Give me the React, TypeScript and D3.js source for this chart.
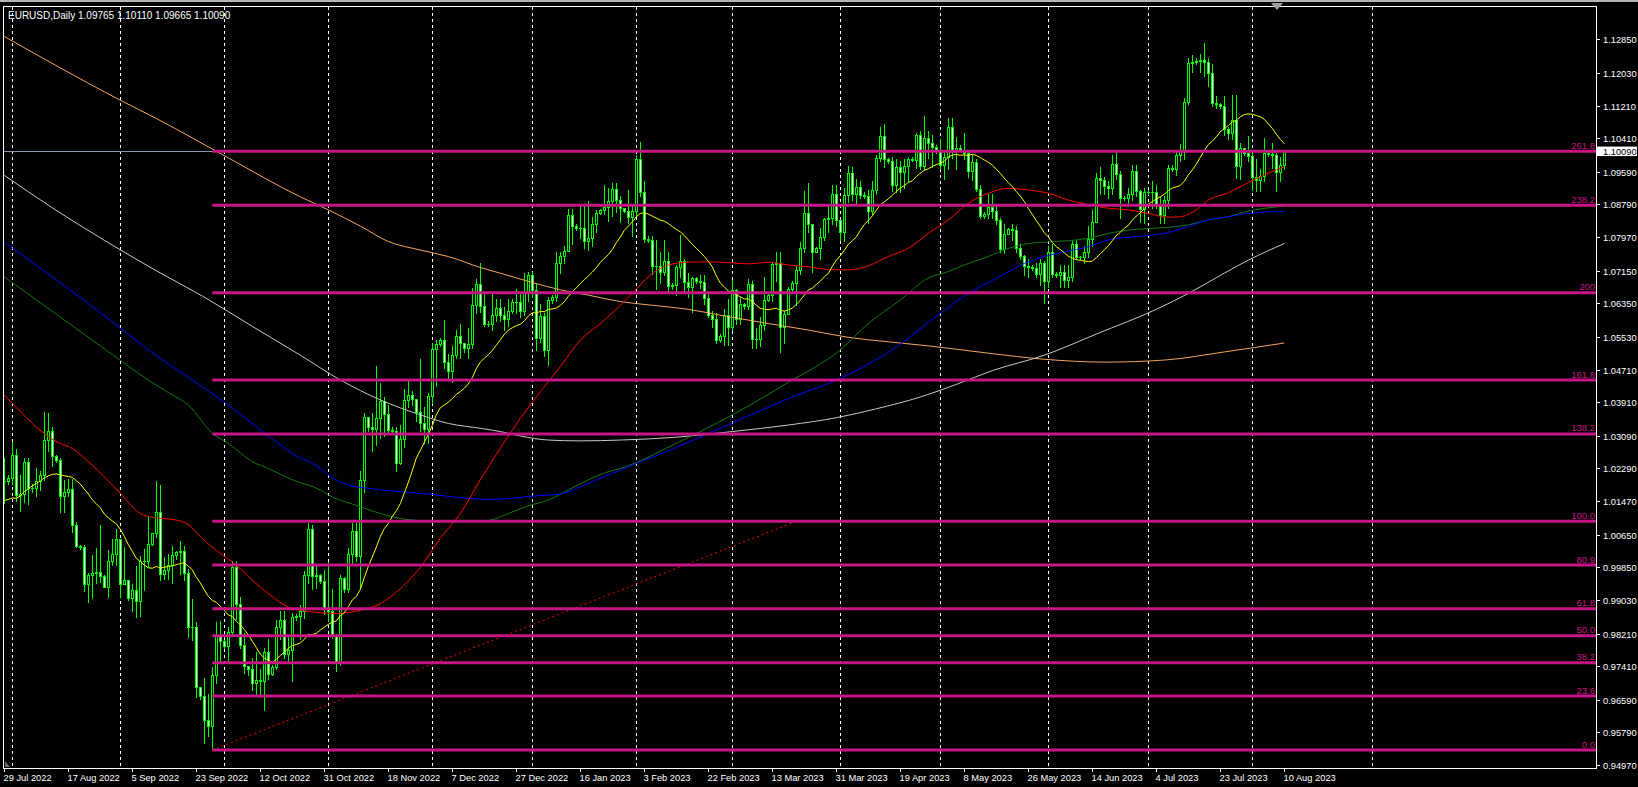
import React from "react";
import * as d3 from "d3";

const W = 1638;
const H = 787;

// ---- data (prices in 1/10000) ----
const firstOpen = 10196;
const priorCloses = [10161, 10185, 10180, 10040, 10037, 10061, 10019, 10082, 10085, 10141, 10228, 10180, 10229, 10211, 10205, 10220, 10131, 10199, 10196];

const closePips = [
  10198, 10205, 10260, 10162, 10165, 10245, 10181, 10180, 10196, 10211, 10298, 10320, 10258, 10250, 10160, 10171, 10178, 10088, 10038, 10035,
  9943, 9966, 9970, 9972, 9964, 9937, 10001, 10018, 10055, 9944, 9954, 9910, 9928, 9902, 10000, 10000, 10042, 10068, 10122, 9969,
  9978, 9990, 10014, 10022, 10025, 9971, 9837, 9838, 9690, 9668, 9609, 9594, 9720, 9815, 9802, 9790, 9825, 9985, 9895, 9794,
  9741, 9735, 9700, 9706, 9704, 9777, 9723, 9740, 9838, 9856, 9772, 9780, 9862, 9865, 9878, 9966, 10078, 9964, 9966, 9950,
  9881, 9876, 9819, 9752, 9959, 9930, 10018, 10074, 10012, 10200, 10355, 10330, 10326, 10352, 10394, 10363, 10324, 10320, 10242, 10301,
  10396, 10410, 10398, 10366, 10340, 10325, 10406, 10522, 10535, 10545, 10490, 10467, 10508, 10555, 10538, 10525, 10535, 10630, 10683, 10627,
  10585, 10583, 10606, 10623, 10606, 10595, 10615, 10639, 10639, 10615, 10660, 10705, 10667, 10550, 10603, 10521, 10644, 10650, 10733, 10752,
  10763, 10853, 10826, 10820, 10820, 10789, 10795, 10830, 10856, 10865, 10871, 10886, 10916, 10890, 10869, 10863, 10848, 10862, 10989, 10910,
  10794, 10790, 10727, 10727, 10713, 10740, 10678, 10680, 10723, 10740, 10688, 10674, 10696, 10690, 10687, 10648, 10605, 10596, 10545, 10554,
  10606, 10577, 10668, 10596, 10633, 10627, 10682, 10546, 10546, 10581, 10642, 10655, 10731, 10733, 10577, 10609, 10669, 10685, 10717, 10770,
  10857, 10830, 10760, 10770, 10799, 10843, 10844, 10903, 10839, 10810, 10902, 10955, 10904, 10921, 10902, 10900, 10861, 10913, 10993, 11047,
  10991, 10985, 10927, 10971, 10958, 10973, 10991, 10988, 11050, 10973, 11043, 11029, 11019, 11010, 10976, 10995, 11069, 11013, 11018, 11013,
  11005, 10961, 10982, 10916, 10850, 10855, 10873, 10862, 10840, 10768, 10805, 10818, 10815, 10770, 10752, 10726, 10724, 10722, 10706, 10734,
  10690, 10762, 10708, 10705, 10712, 10693, 10700, 10781, 10750, 10748, 10760, 10794, 10835, 10944, 10939, 10923, 10918, 10979, 10954, 10894,
  10895, 10905, 10960, 10912, 10867, 10909, 10910, 10910, 10880, 10853, 10890, 10969, 10965, 11000, 11009, 11130, 11227, 11228, 11232, 11235,
  11228, 11201, 11128, 11125, 11120, 11063, 11055, 11086, 10972, 11017, 11005, 10998, 10947, 10938, 10948, 11006, 11003, 11001, 10957, 10976,
  11009,
];

const highPips = [
  10254, 10212, 10294, 10275, 10212, 10255, 10253, 10190, 10230, 10222, 10368, 10365, 10330, 10260, 10255, 10200, 10202, 10202, 10095, 10040,
  10040, 9970, 10016, 10031, 10090, 9966, 10027, 10054, 10080, 10055, 10034, 9954, 9943, 9987, 10012, 10030, 10112, 10070, 10198, 10187,
  10010, 10017, 10037, 10025, 10050, 10037, 9980, 9907, 9851, 9690, 9712, 9672, 9740, 9849, 9853, 9805, 9838, 9999, 9999, 9911,
  9824, 9741, 9761, 9775, 9733, 9787, 9807, 9745, 9856, 9876, 9876, 9815, 9873, 9870, 9892, 9976, 10094, 10089, 9990, 9968,
  9977, 9998, 9930, 9820, 9965, 9960, 10032, 10094, 10094, 10222, 10364, 10355, 10364, 10481, 10438, 10405, 10385, 10330, 10330, 10335,
  10423, 10448, 10420, 10398, 10497, 10380, 10413, 10538, 10545, 10550, 10594, 10510, 10530, 10570, 10585, 10538, 10575, 10673, 10694, 10735,
  10665, 10590, 10660, 10646, 10645, 10626, 10645, 10645, 10670, 10663, 10710, 10713, 10713, 10683, 10632, 10610, 10650, 10655, 10760, 10760,
  10776, 10868, 10868, 10830, 10875, 10875, 10887, 10847, 10865, 10868, 10927, 10920, 10930, 10930, 10900, 10870, 10914, 10876, 11000, 11033,
  10935, 10800, 10800, 10790, 10760, 10790, 10760, 10684, 10730, 10804, 10745, 10710, 10700, 10700, 10705, 10705, 10665, 10615, 10610, 10560,
  10620, 10645, 10692, 10670, 10650, 10635, 10694, 10690, 10575, 10600, 10700, 10660, 10736, 10760, 10760, 10615, 10675, 10690, 10730, 10787,
  10912, 10930, 10830, 10773, 10820, 10845, 10875, 10926, 10926, 10840, 10920, 10973, 10970, 10942, 10935, 10910, 10915, 10935, 11000, 11070,
  11076, 10993, 10995, 10990, 10985, 10990, 10995, 10995, 11055, 11060, 11095, 11060, 11050, 11025, 11040, 11010, 11090, 11092, 11045, 11025,
  11055, 11010, 11000, 10990, 10925, 10860, 10905, 10905, 10875, 10845, 10830, 10820, 10830, 10825, 10780, 10755, 10745, 10730, 10735, 10745,
  10740, 10775, 10780, 10712, 10730, 10730, 10730, 10790, 10790, 10752, 10775, 10825, 10865, 10955, 10970, 10945, 10935, 11000, 11012, 10960,
  10900, 10920, 10975, 10975, 10915, 10920, 10915, 10935, 10925, 10900, 10900, 10975, 10975, 11010, 11026, 11140, 11240, 11246, 11240, 11250,
  11276, 11240, 11225, 11145, 11128, 11145, 11070, 11149, 11149, 11030, 11017, 11046, 11005, 10990, 10966, 11042, 11008, 11030, 11005, 10995,
  11011,
];

const lowPips = [
  10144, 10190, 10190, 10148, 10123, 10145, 10141, 10170, 10160, 10175, 10200, 10270, 10235, 10245, 10120, 10120, 10160, 10072, 10035, 10030,
  9926, 9900, 9909, 9946, 9948, 9935, 9912, 9990, 9990, 9911, 9945, 9905, 9877, 9863, 9864, 9929, 9986, 10040, 10060, 9953,
  9955, 9955, 9945, 10005, 9967, 9954, 9812, 9806, 9666, 9660, 9553, 9570, 9535, 9700, 9751, 9785, 9753, 9816, 9858, 9785,
  9725, 9720, 9683, 9670, 9666, 9632, 9710, 9720, 9735, 9807, 9761, 9753, 9704, 9855, 9808, 9861, 9947, 9930, 9933, 9945,
  9870, 9853, 9811, 9730, 9745, 9925, 9924, 9990, 10000, 9935, 10170, 10320, 10271, 10287, 10302, 10307, 10314, 10315, 10222, 10240,
  10280, 10380, 10385, 10345, 10320, 10290, 10290, 10390, 10430, 10530, 10475, 10445, 10440, 10500, 10500, 10515, 10500, 10525, 10610, 10614,
  10580, 10578, 10570, 10590, 10590, 10570, 10580, 10610, 10610, 10600, 10605, 10640, 10650, 10520, 10540, 10505, 10483, 10635, 10640, 10710,
  10735, 10765, 10780, 10815, 10795, 10770, 10765, 10775, 10810, 10855, 10855, 10838, 10850, 10860, 10836, 10860, 10832, 10800, 10850, 10900,
  10785, 10785, 10707, 10670, 10685, 10705, 10660, 10670, 10655, 10700, 10660, 10650, 10613, 10685, 10673, 10632, 10601, 10577, 10536, 10540,
  10533, 10533, 10570, 10585, 10583, 10620, 10620, 10525, 10524, 10530, 10570, 10640, 10640, 10690, 10516, 10537, 10610, 10665, 10630, 10708,
  10760, 10810, 10713, 10760, 10745, 10790, 10810, 10830, 10826, 10790, 10788, 10885, 10890, 10880, 10895, 10895, 10832, 10855, 10905, 10985,
  10970, 10980, 10911, 10910, 10910, 10920, 10935, 10985, 10968, 10965, 10965, 10993, 10970, 11005, 10965, 10941, 10966, 10993, 10965, 11010,
  10990, 10945, 10939, 10912, 10845, 10845, 10845, 10845, 10830, 10760, 10758, 10805, 10790, 10760, 10745, 10705, 10700, 10718, 10700, 10680,
  10635, 10675, 10700, 10700, 10675, 10675, 10675, 10690, 10745, 10745, 10735, 10750, 10775, 10835, 10905, 10905, 10895, 10905, 10942, 10845,
  10890, 10880, 10890, 10900, 10835, 10833, 10905, 10870, 10870, 10833, 10833, 10870, 10960, 10950, 10985, 10990, 11125, 11205, 11225, 11205,
  11195, 11170, 11120, 11115, 11117, 11050, 11040, 11040, 10943, 10940, 11000, 10985, 10915, 10912, 10912, 10935, 10998, 10967, 10912, 10935,
  10966,
];

// moving averages: [bar index, price in 1/10000]
const maRed: [number, number][] = [
  [0, 10409], [4, 10368], [10, 10314], [13, 10294], [17, 10277], [22, 10236], [29, 10167], [34, 10117], [37, 10108], [43, 10101],
  [46, 10090], [49, 10060], [54, 10019], [57, 9998], [62, 9953], [66, 9920], [71, 9887], [74, 9879], [79, 9873], [83, 9871], [89, 9879],
  [94, 9895], [99, 9932], [104, 9984], [109, 10056], [114, 10117], [119, 10200], [124, 10278], [129, 10351], [134, 10417], [139, 10479],
  [144, 10544], [149, 10585], [154, 10630], [158, 10670], [161, 10700], [166, 10729], [171, 10736], [176, 10737], [181, 10735], [186, 10732],
  [191, 10736], [196, 10729], [201, 10725], [206, 10718], [211, 10717], [216, 10727], [221, 10750], [226, 10770], [231, 10807], [236, 10840],
  [241, 10881], [246, 10906], [251, 10918], [256, 10914], [261, 10906], [266, 10889], [271, 10878], [276, 10869], [281, 10865], [286, 10856],
  [291, 10847], [294, 10848], [298, 10865], [301, 10889], [306, 10907], [311, 10932], [316, 10955], [320, 10971],
];
const maGreen: [number, number][] = [
  [0, 10700], [12, 10615], [24, 10530], [36, 10446], [41, 10415], [46, 10384], [52, 10315], [56, 10290], [62, 10245], [66, 10228],
  [72, 10200], [79, 10175], [81, 10163], [89, 10134], [94, 10117], [99, 10105], [105, 10099], [112, 10097], [121, 10100], [126, 10117],
  [131, 10136], [136, 10150], [141, 10175], [146, 10200], [151, 10220], [154, 10228], [168, 10290], [182, 10360], [196, 10440], [209, 10520],
  [216, 10585], [224, 10643], [231, 10697], [236, 10713], [241, 10733], [246, 10750], [251, 10770], [256, 10782], [261, 10786], [266, 10789],
  [271, 10795], [276, 10807], [281, 10815], [286, 10819], [291, 10822], [296, 10828], [301, 10840], [306, 10848], [311, 10862], [316, 10870],
  [320, 10874],
];
const maBlue: [number, number][] = [
  [0, 10785], [12, 10700], [25, 10605], [36, 10520], [47, 10446], [56, 10384], [64, 10323], [72, 10265], [79, 10228], [81, 10212],
  [86, 10187], [91, 10179], [99, 10171], [106, 10165], [114, 10156], [121, 10152], [126, 10154], [132, 10160], [139, 10165], [144, 10183],
  [149, 10204], [154, 10224], [168, 10280], [182, 10340], [196, 10400], [209, 10450], [222, 10520], [234, 10610], [241, 10659], [248, 10696],
  [255, 10733], [260, 10750], [265, 10762], [271, 10774], [276, 10791], [283, 10799], [290, 10807], [296, 10824], [301, 10840], [306, 10848],
  [311, 10856], [316, 10860], [320, 10861],
];
const maWhite: [number, number][] = [
  [0, 10950], [12, 10870], [25, 10790], [38, 10715], [50, 10650], [62, 10578], [74, 10507], [84, 10446], [94, 10397], [104, 10360],
  [111, 10339], [119, 10327], [124, 10319], [129, 10308], [136, 10298], [144, 10296], [154, 10298], [168, 10305], [182, 10319], [196, 10335],
  [208, 10353], [218, 10375], [229, 10404], [238, 10435], [247, 10469], [260, 10507], [273, 10559], [288, 10620], [296, 10659], [305, 10709],
  [311, 10741], [320, 10782],
];
const maOrange: [number, number][] = [
  [0, 11292], [29, 11135], [38, 11090], [56, 10993], [74, 10897], [81, 10865], [89, 10825], [96, 10787], [104, 10766], [111, 10750],
  [119, 10723], [124, 10709], [132, 10686], [139, 10668], [146, 10655], [154, 10639], [161, 10631], [171, 10620], [181, 10602], [191, 10585],
  [201, 10569], [211, 10551], [221, 10540], [231, 10530], [246, 10512], [260, 10497], [275, 10490], [290, 10495], [305, 10515], [320, 10537],
];

const dateLabels = [
  "29 Jul 2022", "17 Aug 2022", "5 Sep 2022", "23 Sep 2022", "12 Oct 2022", "31 Oct 2022", "18 Nov 2022",
  "7 Dec 2022", "27 Dec 2022", "16 Jan 2023", "3 Feb 2023", "22 Feb 2023", "13 Mar 2023", "31 Mar 2023",
  "19 Apr 2023", "8 May 2023", "26 May 2023", "14 Jun 2023", "4 Jul 2023", "23 Jul 2023", "10 Aug 2023",
];
const labelEvery = 16;
const monthGridBars = [2, 29, 55, 81, 107, 132, 158, 182, 209, 234, 261, 286, 312, 342];

const priceTicks = [
  1.1285, 1.1203, 1.1121, 1.1041, 1.0959, 1.0879, 1.0797, 1.0715, 1.0635, 1.0553, 1.0471, 1.0391,
  1.0309, 1.0229, 1.0147, 1.0065, 0.9985, 0.9903, 0.9821, 0.9741, 0.9659, 0.9579, 0.9497,
];

const fibLow = 0.95345;
const fibHigh = 1.00978;
const fibStartBar = 52;
const fibEndBar = 198;
const fibLevels = [0, 23.6, 38.2, 50.0, 61.8, 80.9, 100.0, 138.2, 161.8, 200, 238.2, 261.8];
const fibLabels = ["0.0", "23.6", "38.2", "50.0", "61.8", "80.9", "100.0", "138.2", "161.8", "200", "238.2", "261.8"];

const symbolTitle = "EURUSD,Daily  1.09765 1.10110 1.09665 1.10090";
const bidPrice = 1.1009;

const FONT = "'Liberation Sans', Arial, sans-serif";

export default function App() {
  const left = 4;
  const right = 1596;
  const top = 7;
  const bottom = 768;

  const x = d3.scaleLinear().domain([0, 320]).range([4.3, 1284.3]);
  const y = d3.scaleLinear().domain([0.9497, 1.1285]).range([765.3, 39.3]);
  const px = (v: number) => v / 10000;

  const bars = closePips.map((c, i) => {
    const o = i === 0 ? firstOpen : closePips[i - 1];
    const h = Math.max(highPips[i], o, c);
    const l = Math.min(lowPips[i], o, c);
    return { i, o: px(o), h: px(h), l: px(l), c: px(c) };
  });

  const allCloses = [...priorCloses, ...closePips];
  const sma20 = closePips.map((_, i) => {
    let s = 0;
    for (let k = 0; k < 20; k++) s += allCloses[i + k];
    return [i, s / 20] as [number, number];
  });

  const lineLin = d3
    .line<[number, number]>()
    .x((d) => x(d[0]))
    .y((d) => y(px(d[1])));
  const lineSmooth = d3
    .line<[number, number]>()
    .x((d) => x(d[0]))
    .y((d) => y(px(d[1])))
    .curve(d3.curveMonotoneX);

  const fibPrice = (lv: number) => fibLow + (fibHigh - fibLow) * (lv / 100);
  const fibX0 = x(fibStartBar);

  return (
    <div
      style={{
        position: "absolute",
        left: 0,
        top: 0,
        width: W,
        height: H,
        background: "#000",
        overflow: "hidden",
      }}
    >
      <svg width={W} height={H} style={{ display: "block" }}>
        <defs>
          <clipPath id="plot">
            <rect x={left} y={top} width={right - left} height={bottom - top} />
          </clipPath>
        </defs>
        <rect x={0} y={0} width={W} height={H} fill="#000" />
        <rect x={0} y={0} width={W} height={2} fill="#b4b4b4" />

        {/* vertical month grid */}
        <g clipPath="url(#plot)">
          {monthGridBars.map((b) => {
            const gx = Math.round(x(b)) + 0.5;
            return (
              <line
                key={"g" + b}
                x1={gx}
                x2={gx}
                y1={top}
                y2={bottom}
                stroke="#ffffff"
                strokeWidth={1}
                strokeDasharray="3,3"
              />
            );
          })}
          {/* bid line */}
          <line
            x1={left}
            x2={right}
            y1={Math.round(y(bidPrice)) + 0.5}
            y2={Math.round(y(bidPrice)) + 0.5}
            stroke="#8898aa"
            strokeWidth={1}
          />

          {/* candles */}
          <g shapeRendering="crispEdges">
            {bars.map((b) => {
              const cx = Math.round(x(b.i));
              const yH = Math.round(y(b.h));
              const yL = Math.round(y(b.l));
              const yT = Math.round(y(Math.max(b.o, b.c)));
              const yB = Math.round(y(Math.min(b.o, b.c)));
              const bull = b.c >= b.o;
              return (
                <g key={"c" + b.i}>
                  <line x1={cx + 0.5} x2={cx + 0.5} y1={yH} y2={yL + 1} stroke="#00ff00" strokeWidth={1} />
                  {yB - yT < 1 ? (
                    <line x1={cx - 1} x2={cx + 2} y1={yT + 0.5} y2={yT + 0.5} stroke="#00ff00" strokeWidth={1} />
                  ) : (
                    <rect
                      x={cx - 0.5}
                      y={yT + 0.5}
                      width={2}
                      height={yB - yT}
                      fill={bull ? "#000000" : "#ffffff"}
                      stroke="#00ff00"
                      strokeWidth={1}
                    />
                  )}
                </g>
              );
            })}
          </g>

          {/* moving averages */}
          <path d={lineSmooth(maOrange) || ""} fill="none" stroke="#f4a460" strokeWidth={1} />
          <path d={lineSmooth(maWhite) || ""} fill="none" stroke="#c8c8c8" strokeWidth={1} />
          <path d={lineSmooth(maGreen) || ""} fill="none" stroke="#0f7a0f" strokeWidth={1} />
          <path d={lineSmooth(maBlue) || ""} fill="none" stroke="#0000ff" strokeWidth={1} />
          <path d={lineSmooth(maRed) || ""} fill="none" stroke="#ff0000" strokeWidth={1} />
          <path d={lineLin(sma20) || ""} fill="none" stroke="#ffff00" strokeWidth={1} />

          {/* fibonacci */}
          <line
            x1={fibX0}
            y1={y(fibLow)}
            x2={x(fibEndBar)}
            y2={y(fibHigh)}
            stroke="#ff0000"
            strokeWidth={1}
            strokeDasharray="2,3"
          />
          {fibLevels.map((lv, k) => {
            const fy = y(fibPrice(lv));
            return (
              <g key={"f" + k}>
                <line x1={fibX0} x2={right} y1={fy} y2={fy} stroke="#c71585" strokeWidth={3} />
                <text
                  x={right - 1}
                  y={fy - 2.5}
                  textAnchor="end"
                  fontFamily={FONT}
                  fontSize={9.5}
                  fill="#c71585"
                >
                  {fibLabels[k]}
                </text>
              </g>
            );
          })}
        </g>

        {/* frame */}
        <rect
          x={3.5}
          y={6.5}
          width={right - 3}
          height={bottom - 6}
          fill="none"
          stroke="#ffffff"
          strokeWidth={1}
          shapeRendering="crispEdges"
        />
        <polygon points="1271,3 1283,3 1277,10" fill="#a0a0a0" />
        <polygon points="5,761 5,767 10,767" fill="#707070" />

        {/* title */}
        <text x={8} y={18.5} fontFamily={FONT} fontSize={10} fill="#ffffff">
          {symbolTitle}
        </text>

        {/* price axis */}
        {priceTicks.map((p) => {
          const ty = Math.round(y(p)) + 0.5;
          return (
            <g key={"p" + p}>
              <line x1={right + 0.5} x2={right + 4} y1={ty} y2={ty} stroke="#ffffff" strokeWidth={1} />
              <text x={1603} y={ty + 3.4} fontFamily={FONT} fontSize={9.3} fill="#ffffff">
                {p.toFixed(5)}
              </text>
            </g>
          );
        })}
        <rect x={1597} y={y(bidPrice) - 4.8} width={40} height={9.5} fill="#ffffff" />
        <text x={1603} y={y(bidPrice) + 3.4} fontFamily={FONT} fontSize={9.3} fill="#000000">
          {bidPrice.toFixed(5)}
        </text>

        {/* time axis */}
        {dateLabels.map((t, k) => {
          const tx = Math.round(x(k * labelEvery)) + 0.5;
          return (
            <g key={"d" + k}>
              <line x1={tx} x2={tx} y1={bottom} y2={bottom + 4} stroke="#ffffff" strokeWidth={1} />
              <text x={tx - 1} y={781} fontFamily={FONT} fontSize={9.3} fill="#ffffff">
                {t}
              </text>
            </g>
          );
        })}
      </svg>
    </div>
  );
}
